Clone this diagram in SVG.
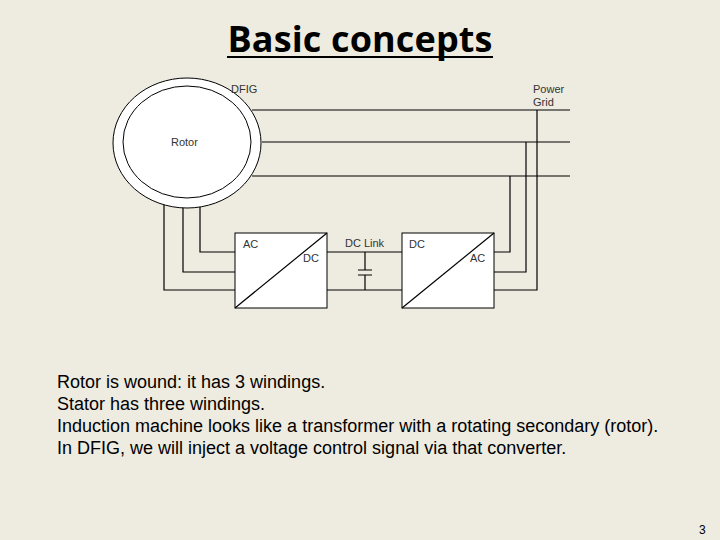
<svg xmlns="http://www.w3.org/2000/svg" width="720" height="540" viewBox="0 0 720 540">
<style>
.w{fill:none;stroke:#000;stroke-width:1.2}
.b{fill:#fff;stroke:#000;stroke-width:1}
.l{font-family:"Liberation Sans",Arial,sans-serif;font-size:11px;fill:#333}
.t{font-family:"Liberation Sans",Arial,sans-serif;font-size:18px;fill:#000}
</style>
<rect width="720" height="540" fill="#EEEBE0"/>
<text x="360" y="52" text-anchor="middle" font-family="'Open Sans','Liberation Sans',sans-serif" font-weight="bold" font-size="36" textLength="265" fill="#000">Basic concepts</text>
<line x1="227" y1="57" x2="493" y2="57" stroke="#000" stroke-width="2"/>
<g id="connectors">
<path class="w" d="M252 110H570M262 142H570M252 176H570"/>
<path class="w" d="M537 110V290H494M526 142V272H494M510 176V252H494"/>
<path class="w" d="M164 193V290H235M183 199V272H235M200 198V252H235"/>
<path class="w" d="M327 252H402M327 290H402M365 252V270M358 270H372M358 275H372M365 275V290"/>
</g>
<g id="dfig">
<ellipse class="b" cx="187" cy="143" rx="74" ry="65"/>
<ellipse class="b" cx="187" cy="142" rx="64" ry="56"/>
<text class="l" x="231" y="93">DFIG</text>
<text class="l" x="171" y="146">Rotor</text>
</g>
<g id="grid"><text class="l" x="533" y="93">Power</text><text class="l" x="533" y="106">Grid</text></g>
<g id="conv1">
<rect class="b" x="235" y="233" width="92" height="75"/>
<line class="w" x1="235" y1="308" x2="327" y2="233" stroke-width="1"/>
<text class="l" x="243" y="248">AC</text><text class="l" x="303" y="262">DC</text>
</g>
<g id="dclink"><text class="l" x="345" y="247">DC Link</text></g>
<g id="conv2">
<rect class="b" x="402" y="233" width="92" height="75"/>
<line class="w" x1="402" y1="308" x2="494" y2="233" stroke-width="1"/>
<text class="l" x="409" y="248">DC</text><text class="l" x="470" y="262">AC</text>
</g>
<text class="t" x="57" y="388">Rotor is wound: it has 3 windings.</text>
<text class="t" x="57" y="410">Stator has three windings.</text>
<text class="t" x="57" y="432">Induction machine looks like a transformer with a rotating secondary (rotor).</text>
<text class="t" x="57" y="454">In DFIG, we will inject a voltage control signal via that converter.</text>
<text x="699" y="534" font-family="'Liberation Sans',sans-serif" font-size="12">3</text>
</svg>
